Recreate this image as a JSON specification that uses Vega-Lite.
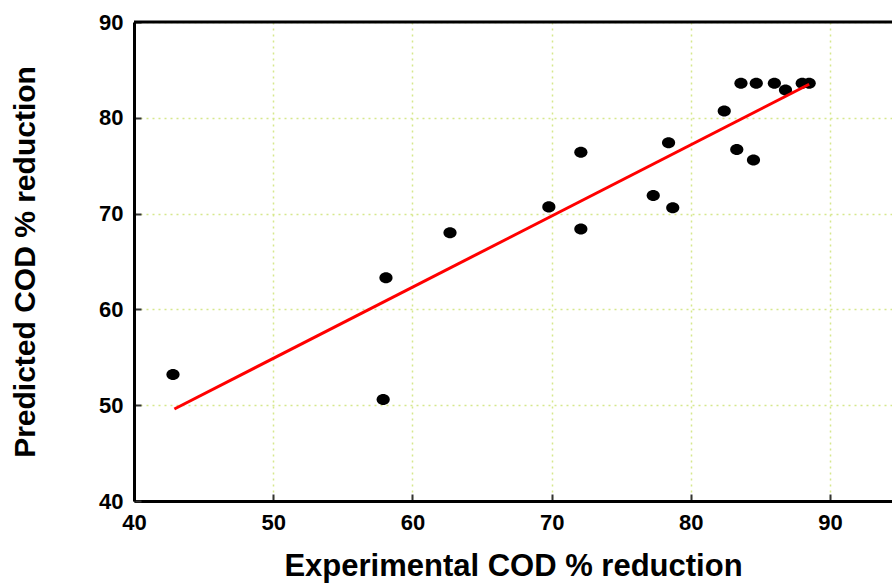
{
  "$schema": "https://vega.github.io/schema/vega-lite/v6.json",
  "width": 758,
  "height": 479,
  "autosize": {"type": "none"},
  "padding": {"left": 134, "top": 22, "right": 0, "bottom": 83},
  "background": "white",
  "config": {
    "view": {"stroke": null},
    "font": "Liberation Sans",
    "axis": {
      "domainColor": "black",
      "domainWidth": 3,
      "tickColor": "#333333",
      "tickWidth": 2,
      "tickSize": -7,
      "labelFont": "Liberation Sans",
      "labelFontWeight": "bold",
      "labelFontSize": 22,
      "labelColor": "black",
      "titleFont": "Liberation Sans",
      "titleFontWeight": "bold",
      "titleColor": "black",
      "grid": true,
      "gridColor": "#d6e88c",
      "gridDash": [2, 4],
      "gridWidth": 1.5
    }
  },
  "datasets": {
    "runs": [
      {"experimental": 42.8, "predicted": 53.2},
      {"experimental": 58.1, "predicted": 63.3},
      {"experimental": 57.9, "predicted": 50.6},
      {"experimental": 62.7, "predicted": 68.0},
      {"experimental": 69.8, "predicted": 70.7},
      {"experimental": 72.1, "predicted": 76.4},
      {"experimental": 72.1, "predicted": 68.4},
      {"experimental": 77.3, "predicted": 71.9},
      {"experimental": 78.4, "predicted": 77.4},
      {"experimental": 78.7, "predicted": 70.6},
      {"experimental": 82.4, "predicted": 80.7},
      {"experimental": 83.3, "predicted": 76.7},
      {"experimental": 84.5, "predicted": 75.6},
      {"experimental": 83.6, "predicted": 83.6},
      {"experimental": 84.7, "predicted": 83.6},
      {"experimental": 86.0, "predicted": 83.6},
      {"experimental": 86.8, "predicted": 82.9},
      {"experimental": 88.0, "predicted": 83.6},
      {"experimental": 88.5, "predicted": 83.6}
    ],
    "fit": [
      {"experimental": 42.9, "predicted": 49.6},
      {"experimental": 88.5, "predicted": 83.5}
    ]
  },
  "layer": [
    {
      "data": {"name": "runs"},
      "mark": {
        "type": "point",
        "filled": true,
        "color": "black",
        "opacity": 1,
        "size": 144,
        "shape": "M-1.1,0A1.1,0.92 0 1,0 1.1,0A1.1,0.92 0 1,0 -1.1,0Z"
      },
      "encoding": {
        "x": {
          "field": "experimental",
          "type": "quantitative",
          "title": "Experimental COD % reduction",
          "scale": {"domain": [40, 94.45], "nice": false, "zero": false},
          "axis": {"values": [40, 50, 60, 70, 80, 90], "labelPadding": 18, "titlePadding": 18, "titleFontSize": 31, "labelFlush": false}
        },
        "y": {
          "field": "predicted",
          "type": "quantitative",
          "title": "Predicted COD % reduction",
          "scale": {"domain": [40, 90], "nice": false, "zero": false},
          "axis": {"values": [40, 50, 60, 70, 80, 90], "labelPadding": 18, "titlePadding": 58, "titleFontSize": 30, "labelFlush": false}
        }
      }
    },
    {
      "data": {"name": "fit"},
      "mark": {"type": "line", "color": "#ff0000", "strokeWidth": 3},
      "encoding": {
        "x": {"field": "experimental", "type": "quantitative"},
        "y": {"field": "predicted", "type": "quantitative"}
      }
    },
    {
      "data": {"values": [{}]},
      "mark": {"type": "rule", "color": "black", "strokeWidth": 3},
      "encoding": {"y": {"datum": 90}}
    }
  ]
}
